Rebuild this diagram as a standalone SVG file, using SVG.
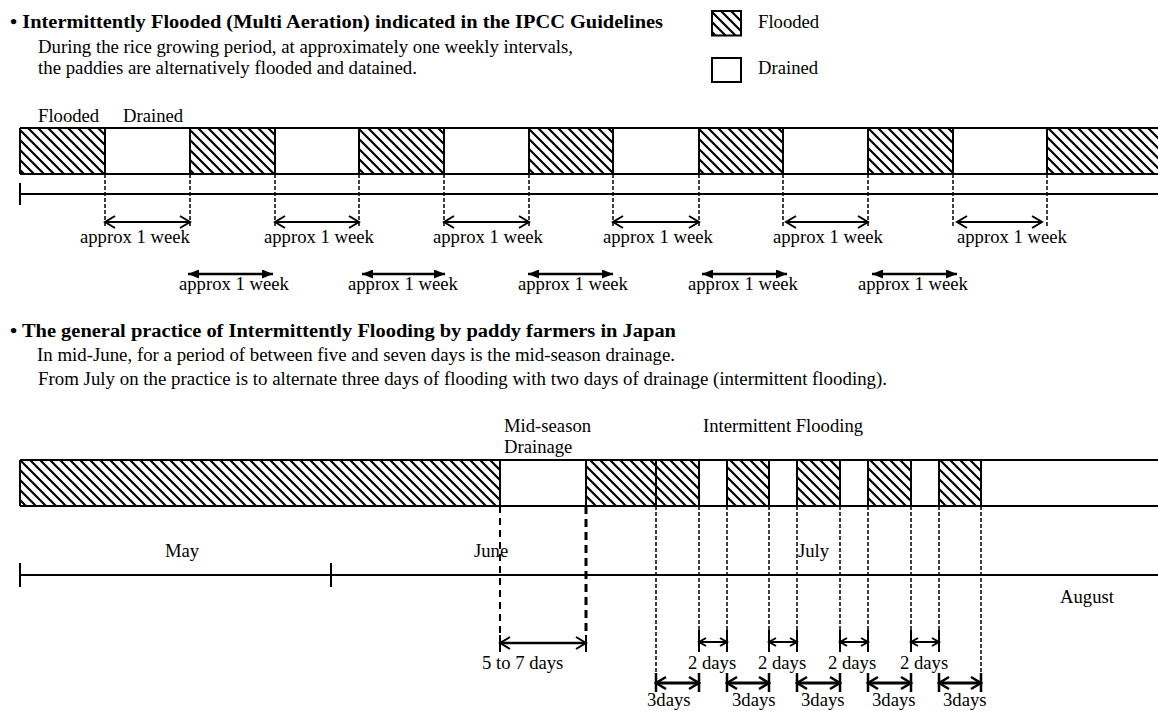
<svg xmlns="http://www.w3.org/2000/svg" width="1158" height="711" viewBox="0 0 1158 711">
<defs>
<style>
.t{font-family:"Liberation Serif","Times New Roman",serif;font-size:18.67px;fill:#000}
.b{font-weight:bold}
.ln{stroke:#000;stroke-width:2;fill:none}
.dash{stroke:#000;stroke-width:1.5;stroke-dasharray:4 2;fill:none}
.tick{stroke:#000;stroke-width:2;fill:none}
.a1{stroke:#000;stroke-width:2;fill:none;marker-start:url(#open);marker-end:url(#open)}
.a2{stroke:#000;stroke-width:2.5;fill:none;marker-start:url(#solid);marker-end:url(#solid)}
.a3{stroke:#000;stroke-width:2;fill:none;marker-start:url(#small);marker-end:url(#small)}
.a4{stroke:#000;stroke-width:3;fill:none;marker-start:url(#open3);marker-end:url(#open3)}
.a5{stroke:#000;stroke-width:2.5;fill:none;marker-start:url(#open);marker-end:url(#open)}
</style>
<pattern id="hatch" patternUnits="userSpaceOnUse" width="10" height="10">
<path d="M0,0 L10,10 M-2,8 L2,12 M8,-2 L12,2" stroke="#000" stroke-width="2.2"/>
</pattern>
<marker id="open" viewBox="-2 -2 14 16" refX="10" refY="6" markerWidth="14" markerHeight="16" markerUnits="userSpaceOnUse" orient="auto-start-reverse" overflow="visible">
<path d="M0,0 L10,6 L0,12" fill="none" stroke="#000" stroke-width="2"/>
</marker>
<marker id="open3" viewBox="-2 -2 14 16" refX="10" refY="6" markerWidth="14" markerHeight="16" markerUnits="userSpaceOnUse" orient="auto-start-reverse" overflow="visible">
<path d="M0,0 L10,6 L0,12" fill="none" stroke="#000" stroke-width="2.5"/>
</marker>
<marker id="small" viewBox="-2 -2 11 12" refX="7" refY="4" markerWidth="11" markerHeight="12" markerUnits="userSpaceOnUse" orient="auto-start-reverse" overflow="visible">
<path d="M0,0 L7,4 L0,8" fill="none" stroke="#000" stroke-width="2"/>
</marker>
<marker id="solid" viewBox="0 0 11 9" refX="11" refY="4.5" markerWidth="11" markerHeight="9" markerUnits="userSpaceOnUse" orient="auto-start-reverse">
<path d="M0,0 L11,4.5 L0,9 Z" fill="#000"/>
</marker>
</defs>
<rect x="0" y="0" width="1158" height="711" fill="#fff"/>

<g id="heading-ipcc">
<text class="t b" x="10" y="28" textLength="653" lengthAdjust="spacingAndGlyphs">• Intermittently Flooded (Multi Aeration) indicated in the IPCC Guidelines</text>
<text class="t" x="38" y="53" textLength="535" lengthAdjust="spacingAndGlyphs">During the rice growing period, at approximately one weekly intervals,</text>
<text class="t" x="38" y="74" textLength="379" lengthAdjust="spacingAndGlyphs">the paddies are alternatively flooded and datained.</text>
</g>

<g id="legend-flooded">
<rect x="712" y="11" width="29" height="24.5" fill="url(#hatch)" stroke="#000" stroke-width="2"/>
<text class="t" x="758" y="28">Flooded</text>
</g>
<g id="legend-drained">
<rect x="712" y="58" width="29" height="24" fill="#fff" stroke="#000" stroke-width="2"/>
<text class="t" x="758" y="74">Drained</text>
</g>

<g id="bar-ipcc">
<text class="t" x="38" y="122">Flooded</text>
<text class="t" x="123" y="122">Drained</text>
<rect x="20" y="128" width="85" height="46" fill="url(#hatch)"/>
<rect x="190" y="128" width="85" height="46" fill="url(#hatch)"/>
<rect x="359" y="128" width="85" height="46" fill="url(#hatch)"/>
<rect x="529" y="128" width="84" height="46" fill="url(#hatch)"/>
<rect x="699" y="128" width="84" height="46" fill="url(#hatch)"/>
<rect x="868" y="128" width="85" height="46" fill="url(#hatch)"/>
<rect x="1047" y="128" width="111" height="46" fill="url(#hatch)"/>
<path class="ln" d="M20,128 H1158 M20,174 H1158 M20,128 V174 M105,128 V174 M190,128 V174 M275,128 V174 M359,128 V174 M444,128 V174 M529,128 V174 M613,128 V174 M699,128 V174 M783,128 V174 M868,128 V174 M953,128 V174 M1047,128 V174"/>
</g>

<g id="timeline-ipcc">
<path class="ln" d="M20,194 H1158"/>
<path class="tick" d="M20,183 V205"/>
</g>

<g id="heading-japan">
<text class="t b" x="10" y="337" textLength="666" lengthAdjust="spacingAndGlyphs">• The general practice of Intermittently Flooding by paddy farmers in Japan</text>
<text class="t" x="37" y="361" textLength="638" lengthAdjust="spacingAndGlyphs">In mid-June, for a period of between five and seven days is the mid-season drainage.</text>
<text class="t" x="38" y="385" textLength="849" lengthAdjust="spacingAndGlyphs">From July on the practice is to alternate three days of flooding with two days of drainage (intermittent flooding).</text>
</g>

<g id="bar-japan">
<text class="t" x="504" y="432">Mid-season</text>
<text class="t" x="504" y="453">Drainage</text>
<text class="t" x="703" y="432">Intermittent Flooding</text>
<rect x="20" y="460" width="480" height="46" fill="url(#hatch)"/>
<rect x="586" y="460" width="70" height="46" fill="url(#hatch)"/>
<rect x="656" y="460" width="43" height="46" fill="url(#hatch)"/>
<rect x="727" y="460" width="42" height="46" fill="url(#hatch)"/>
<rect x="797" y="460" width="43" height="46" fill="url(#hatch)"/>
<rect x="868" y="460" width="43" height="46" fill="url(#hatch)"/>
<rect x="939" y="460" width="42" height="46" fill="url(#hatch)"/>
<path class="ln" d="M20,460 H1158 M20,506 H1158 M20,460 V506 M500,460 V506 M586,460 V506 M656,460 V506 M699,460 V506 M727,460 V506 M769,460 V506 M797,460 V506 M840,460 V506 M868,460 V506 M911,460 V506 M939,460 V506 M981,460 V506"/>
</g>

<g id="timeline-japan">
<path class="ln" d="M20,575 H1158"/>
<path class="tick" d="M20,563 V587 M331,563 V587"/>
<text class="t" x="165" y="557">May</text>
<text class="t" x="474" y="557">June</text>
<text class="t" x="798" y="557">July</text>
<text class="t" x="1060" y="603">August</text>
</g>

<g id="connectors">
<path class="dash" d="M105,174 V228 M190,174 V228 M275,174 V228 M359,174 V228 M444,174 V228 M529,174 V228 M613,174 V228 M699,174 V228 M783,174 V228 M868,174 V228 M953,174 V228 M1047,174 V228"/>
<path class="a1" d="M105,222 H190"/>
<path class="a1" d="M275,222 H359"/>
<path class="a1" d="M444,222 H529"/>
<path class="a1" d="M613,222 H699"/>
<path class="a1" d="M786,222 H868"/>
<path class="a1" d="M957,222 H1042"/>
<path class="a2" d="M188,274 H273"/>
<path class="a2" d="M362,274 H445"/>
<path class="a2" d="M528,274 H613"/>
<path class="a2" d="M702,274 H787"/>
<path class="a2" d="M872,274 H957"/>

<path d="M500,506 V636" stroke="#000" stroke-width="2" stroke-dasharray="7 5"/>
<path d="M586,506 V636" stroke="#000" stroke-width="3" stroke-dasharray="8 5"/>
<path class="tick" d="M500,635 V652 M586,635 V652" stroke-width="2.5"/>
<path class="a5" d="M500,643 H586"/>

<path class="dash" d="M656,506 V673 M981,506 V673 M699,506 V630 M727,506 V630 M769,506 V630 M797,506 V630 M840,506 V630 M868,506 V630 M911,506 V630 M939,506 V630"/>
<path class="tick" d="M699,630 V652 M727,630 V652 M769,630 V652 M797,630 V652 M840,630 V652 M868,630 V652 M911,630 V652 M939,630 V652"/>
<path class="a3" d="M699,642 H727"/>
<path class="a3" d="M769,642 H797"/>
<path class="a3" d="M840,642 H868"/>
<path class="a3" d="M911,642 H939"/>
<path class="tick" style="stroke-width:2.5" d="M656,673 V692 M699,673 V692 M727,673 V692 M769,673 V692 M797,673 V692 M840,673 V692 M868,673 V692 M911,673 V692 M939,673 V692 M981,673 V692"/>
<path class="a4" d="M656,683 H699"/>
<path class="a4" d="M727,683 H769"/>
<path class="a4" d="M797,683 H840"/>
<path class="a4" d="M868,683 H911"/>
<path class="a4" d="M939,683 H981"/>
</g>

<g id="labels">
<text class="t" x="80" y="243">approx 1 week</text>
<text class="t" x="264" y="243">approx 1 week</text>
<text class="t" x="433" y="243">approx 1 week</text>
<text class="t" x="603" y="243">approx 1 week</text>
<text class="t" x="773" y="243">approx 1 week</text>
<text class="t" x="957" y="243">approx 1 week</text>
<text class="t" x="179" y="290">approx 1 week</text>
<text class="t" x="348" y="290">approx 1 week</text>
<text class="t" x="518" y="290">approx 1 week</text>
<text class="t" x="688" y="290">approx 1 week</text>
<text class="t" x="858" y="290">approx 1 week</text>
<text class="t" x="482" y="669">5 to 7 days</text>
<text class="t" x="688" y="669">2 days</text>
<text class="t" x="758" y="669">2 days</text>
<text class="t" x="828" y="669">2 days</text>
<text class="t" x="900" y="669">2 days</text>
<text class="t" x="647" y="706">3days</text>
<text class="t" x="732" y="706">3days</text>
<text class="t" x="801" y="706">3days</text>
<text class="t" x="872" y="706">3days</text>
<text class="t" x="943" y="706">3days</text>
</g>
</svg>
